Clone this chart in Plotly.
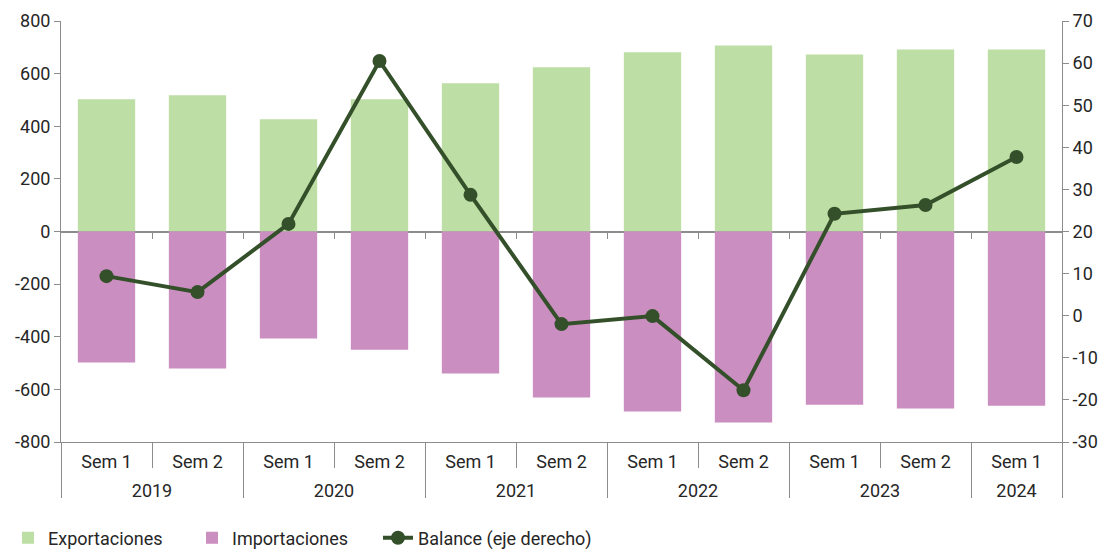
import plotly.graph_objects as go

years = ["2019", "2019", "2020", "2020", "2021", "2021", "2022", "2022", "2023", "2023", "2024"]
semesters = ["Sem 1", "Sem 2", "Sem 1", "Sem 2", "Sem 1", "Sem 2", "Sem 1", "Sem 2", "Sem 1", "Sem 2", "Sem 1"]
exportaciones = [503, 518, 427, 503, 563, 624, 681, 707, 673, 692, 692]
importaciones = [-498, -521, -407, -449, -540, -631, -684, -726, -658, -673, -662]
balance = [9.4, 5.6, 21.8, 60.5, 28.7, -2.0, -0.1, -17.7, 24.2, 26.3, 37.7]
left_ticks = [-800, -600, -400, -200, 0, 200, 400, 600, 800]
right_ticks = [-30, -20, -10, 0, 10, 20, 30, 40, 50, 60, 70]

FONT = "Roboto"
TXT = "#262626"
AX = "#8c8c8c"
FS = 18

# the page body has an 8px margin, so the figure is sized to fit the window
W, H = 1100, 541

n = len(semesters)
pos = list(range(n))
sem_bounds = [i + 0.5 for i in range(n - 1)]

# year groups derived from the category lists
year_names, year_centers, year_bounds = [], [], [-0.5]
start = 0
for i in range(1, n + 1):
    if i == n or years[i] != years[start]:
        year_names.append(years[start])
        year_centers.append((start + i - 1) / 2)
        year_bounds.append(i - 0.5)
        start = i

fig = go.Figure()
fig.add_trace(go.Bar(x=pos, y=exportaciones, name="Exportaciones", legend="legend",
                     marker=dict(color="#BDDEA4", line=dict(width=0))))
fig.add_trace(go.Bar(x=pos, y=importaciones, name="Importaciones", legend="legend2",
                     marker=dict(color="#CB8EC0", line=dict(width=0))))
fig.add_trace(go.Scatter(x=pos, y=balance, name="Balance (eje derecho)", yaxis="y2",
                         legend="legend3", mode="lines+markers",
                         line=dict(color="#34502A", width=4),
                         marker=dict(color="#34502A", size=14)))
# helper traces so the extra axes are drawn
for ax in ["x2", "x3"]:
    fig.add_trace(go.Scatter(x=[0], y=[0], xaxis=ax, yaxis="y", mode="markers",
                             marker=dict(opacity=0), showlegend=False, hoverinfo="skip"))

leg = dict(orientation="h", xref="container", yref="container", xanchor="left",
           yanchor="middle", y=1 - 530 / H, font=dict(family=FONT, size=FS, color=TXT),
           itemwidth=30, bgcolor="rgba(0,0,0,0)")

xr = [-0.5, n - 0.5]
fig.update_layout(
    width=W, height=H,
    margin=dict(l=53, r=46, t=13, b=107),
    paper_bgcolor="white", plot_bgcolor="white",
    barmode="relative", bargap=0.37,
    font=dict(family=FONT, size=FS, color=TXT),
    showlegend=True,
    legend=dict(leg, x=0),
    legend2=dict(leg, x=184 / W),
    legend3=dict(leg, x=370 / W),
    xaxis=dict(range=xr, showline=True, linecolor=AX, linewidth=1,
               tickvals=pos, ticktext=semesters, ticks="", ticklabelstandoff=3,
               minor=dict(tickvals=sem_bounds, ticks="outside", ticklen=25, tickcolor=AX),
               automargin=False, showgrid=False, zeroline=False,
               tickfont=dict(family=FONT, size=FS, color=TXT)),
    xaxis3=dict(range=xr, overlaying="x", anchor="free", position=0, side="bottom",
                showline=False, showgrid=False, zeroline=False,
                tickvals=year_centers, ticktext=year_names, ticks="",
                ticklabelstandoff=36,
                minor=dict(tickvals=year_bounds, ticks="outside", ticklen=55, tickcolor=AX),
                automargin=False, tickfont=dict(family=FONT, size=FS, color=TXT)),
    xaxis2=dict(range=xr, overlaying="x", anchor="free", position=0.5,
                showline=False, showgrid=False, zeroline=False,
                ticks="outside", tickvals=sem_bounds, ticklen=6, tickcolor=AX,
                showticklabels=False, automargin=False),
    yaxis=dict(range=[-800, 800], tickvals=left_ticks, ticktext=[str(v) for v in left_ticks],
               showgrid=False, zeroline=True,
               zerolinecolor=AX, zerolinewidth=1.5, showline=True, linecolor=AX,
               ticks="outside", ticklen=6, tickcolor=AX, automargin=False,
               tickfont=dict(family=FONT, size=FS, color=TXT)),
    yaxis2=dict(range=[-30, 70], tickvals=right_ticks, ticktext=[str(v) for v in right_ticks],
                overlaying="y", side="right",
                showgrid=False, zeroline=False, showline=True, linecolor=AX,
                ticks="outside", ticklen=6, tickcolor=AX, automargin=False,
                tickfont=dict(family=FONT, size=FS, color=TXT)),
)

fig.write_html("out.html")
